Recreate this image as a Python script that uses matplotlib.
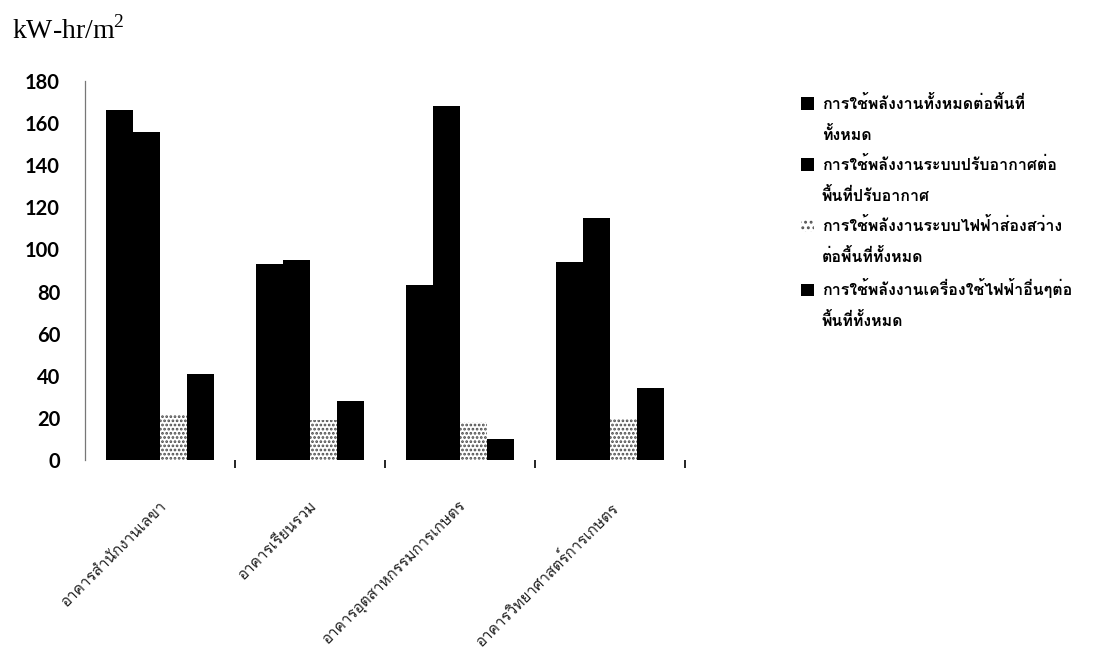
import matplotlib
matplotlib.use("Agg")
import matplotlib.pyplot as plt
import numpy as np
from matplotlib import font_manager, ft2font
from matplotlib.patches import Patch

# Buildings and energy-use intensities (kW-hr/m2)
buildings = ["อาคารสำนักงานเลขา", "อาคารเรียนรวม",
             "อาคารอุตสาหกรรมการเกษตร", "อาคารวิทยาศาสตร์การเกษตร"]
total_per_area = [166, 93, 83, 94]
aircon_per_cooled_area = [156, 95, 168, 115]
lighting_per_area = [22, 19, 18, 20]
other_equipment_per_area = [41, 28, 10, 34]

series_names = [
    ("การใช้พลังงานทั้งหมดต่อพื้นที่", "ทั้งหมด"),
    ("การใช้พลังงานระบบปรับอากาศต่อ", "พื้นที่ปรับอากาศ"),
    ("การใช้พลังงานระบบไฟฟ้าส่องสว่าง", "ต่อพื้นที่ทั้งหมด"),
    ("การใช้พลังงานเครื่องใช้ไฟฟ้าอื่นๆต่อ", "พื้นที่ทั้งหมด"),
]
y_ticks = [0, 20, 40, 60, 80, 100, 120, 140, 160, 180]
unit_label = r"kW-hr/m$^\mathregular{2}$"


def find_thai_family():
    """Return the name of an installed font that has Thai glyphs."""
    best = None
    for f in font_manager.fontManager.ttflist:
        try:
            cmap = ft2font.FT2Font(f.fname).get_charmap()
        except Exception:
            continue
        if 0x0E01 in cmap and 0x0E33 in cmap:
            if str(f.weight) in ("bold", "700"):
                return f.name
            best = best or f.name
    return best


thai = find_thai_family()
thai_families = ([thai] if thai else []) + ["DejaVu Sans"]

fig = plt.figure(figsize=(10.95, 6.59), dpi=100)
ax = fig.add_axes([85 / 1095, 1 - 460 / 659, 600 / 1095, (460 - 81) / 659])

x = np.arange(len(buildings))
w = 0.18
offsets = [-1.5 * w, -0.5 * w, 0.5 * w, 1.5 * w]
series = [total_per_area, aircon_per_cooled_area, lighting_per_area,
          other_equipment_per_area]

plt.rcParams["hatch.linewidth"] = 1.3
handles = []
for i, (vals, off) in enumerate(zip(series, offsets)):
    if i == 2:
        ax.bar(x + off, vals, w, facecolor="white", edgecolor="#4a4a4a",
               hatch="....", linewidth=0)
        handles.append(Patch(facecolor="white", edgecolor="#555555",
                             hatch="...", linewidth=0))
    else:
        ax.bar(x + off, vals, w, color="black", linewidth=0)
        handles.append(Patch(facecolor="black", linewidth=0))

ax.set_xlim(-0.5, 3.5)
ax.set_ylim(0, 180)
ax.set_yticks(y_ticks)
ax.set_yticklabels([str(v) for v in y_ticks], family="Lato",
                   fontweight="bold", fontsize=14.5)
ax.tick_params(axis="y", length=0, pad=18)

ax.set_xticks(x)
ax.set_xticklabels(buildings, rotation=45, ha="right",
                   rotation_mode="anchor", family=thai_families,
                   fontsize=11, color="#222222")
ax.tick_params(axis="x", which="major", length=0, pad=28)
ax.set_xticks([0.5, 1.5, 2.5, 3.5], minor=True)
ax.tick_params(axis="x", which="minor", length=6, width=1.2,
               direction="out", color="black")

for side in ("top", "right", "bottom"):
    ax.spines[side].set_visible(False)
ax.spines["left"].set_color("#777777")
ax.spines["left"].set_linewidth(0.9)
ax.spines["left"].set_linestyle((0, (6, 1)))

fig.text(12 / 1095, 1 - 30 / 659, unit_label, family="Liberation Serif",
         fontsize=20, va="center", ha="left")

# Legend: one row per text line, square only on the first line of each entry
leg_handles, leg_labels = [], []
for h, (l1, l2) in zip(handles, series_names):
    leg_handles += [h, Patch(facecolor="none", edgecolor="none")]
    leg_labels += [l1, l2]
fig.legend(leg_handles, leg_labels, loc="upper left",
           bbox_to_anchor=(801 / 1095, 1 - 95 / 659), frameon=False,
           prop={"family": thai_families, "size": 11.5, "weight": "bold"},
           handlelength=0.8, handleheight=0.8, handletextpad=0.5,
           labelspacing=0.85, borderaxespad=0, borderpad=0)

fig.savefig("out.png", dpi=100, facecolor="white")
